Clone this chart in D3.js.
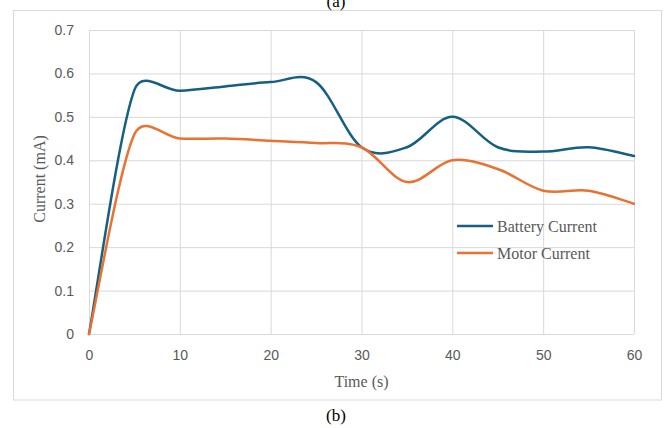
<!DOCTYPE html>
<html>
<head>
<meta charset="utf-8">
<script src="https://cdn.jsdelivr.net/npm/d3@7"></script>
<style>
  body { margin: 0; background: #fff; }
  .tick text { font-family: "Liberation Sans", Arial, sans-serif; font-size: 14px; fill: #595959; }
  .serif { font-family: "Liberation Serif", "Times New Roman", serif; }
</style>
</head>
<body>
<div id="chart"></div>
<script>
// values
const time = [0, 5, 10, 15, 20, 25, 30, 35, 40, 45, 50, 55, 60];
const battery = [0, 0.562, 0.56, 0.57, 0.58, 0.58, 0.43, 0.43, 0.50, 0.43, 0.42, 0.43, 0.41];
const motor = [0, 0.46, 0.45, 0.45, 0.445, 0.44, 0.43, 0.35, 0.40, 0.38, 0.33, 0.33, 0.30];
const seriesNames = ["Battery Current", "Motor Current"];
const xTicks = [0, 10, 20, 30, 40, 50, 60];
const yTicks = [0, 0.1, 0.2, 0.3, 0.4, 0.5, 0.6, 0.7];

const W = 664, H = 428;
const margin = {top: 30, right: 30, bottom: 94, left: 89},
      width = W - margin.left - margin.right,
      height = H - margin.top - margin.bottom;

const colors = ["#156082", "#E97132"];

// spreadsheet-style smoothing: bezier with 1/6 tangents, capped at half the segment
function SmoothCurve(context) { this._context = context; }
SmoothCurve.prototype = {
  areaStart() {}, areaEnd() {},
  lineStart() { this._pts = []; },
  point(x, y) { this._pts.push([+x, +y]); },
  lineEnd() {
    const p = this._pts, c = this._context, n = p.length;
    if (!n) return;
    const dist = (a, b) => Math.hypot(b[0] - a[0], b[1] - a[1]);
    c.moveTo(p[0][0], p[0][1]);
    for (let i = 0; i < n - 1; i++) {
      const p0 = p[i > 0 ? i - 1 : i], p1 = p[i], p2 = p[i + 1], p3 = p[i + 2 < n ? i + 2 : i + 1];
      const d12 = dist(p1, p2), d02 = dist(p0, p2), d13 = dist(p1, p3);
      let f0 = 1 / 6, f1 = 1 / 6;
      if (d02 / 6 > d12 / 2) f0 = d12 / 2 / d02;
      if (d13 / 6 > d12 / 2) f1 = d12 / 2 / d13;
      c.bezierCurveTo(
        p1[0] + (p2[0] - p0[0]) * f0, p1[1] + (p2[1] - p0[1]) * f0,
        p2[0] - (p3[0] - p1[0]) * f1, p2[1] - (p3[1] - p1[1]) * f1,
        p2[0], p2[1]);
    }
  }
};
const curveSmooth = ctx => new SmoothCurve(ctx);

const root = d3.select("#chart")
  .append("svg")
  .attr("width", W)
  .attr("height", H);

// outer frame
root.append("rect")
  .attr("x", 13.5).attr("y", 10.5)
  .attr("width", 648).attr("height", 389.5)
  .attr("fill", "none")
  .attr("stroke", "#d9d9d9");

// (a) and (b) captions
root.append("text").attr("class", "serif")
  .attr("x", 336).attr("y", 7)
  .attr("text-anchor", "middle")
  .style("font-size", "17px")
  .text("(a)");
root.append("text").attr("class", "serif")
  .attr("x", 336).attr("y", 421)
  .attr("text-anchor", "middle")
  .style("font-size", "17px")
  .text("(b)");

const svg = root.append("g")
  .attr("transform", `translate(${margin.left}, ${margin.top})`);

const x = d3.scaleLinear().domain([0, 60]).range([0, width]);
const y = d3.scaleLinear().domain([0, 0.7]).range([height, 0]);

// X axis with vertical gridlines
svg.append("g")
  .attr("transform", `translate(0, ${height})`)
  .call(d3.axisBottom(x).tickValues(xTicks).tickSize(-height).tickPadding(16))
  .call(g => g.select(".domain").remove())
  .call(g => g.selectAll(".tick line").attr("stroke", "#d9d9d9"));

// Y axis with horizontal gridlines
svg.append("g")
  .call(d3.axisLeft(y).tickValues(yTicks).tickSize(-width).tickPadding(15)
    .tickFormat(d => d === 0 ? "0" : d3.format(".1f")(d)))
  .call(g => g.select(".domain").remove())
  .call(g => g.selectAll(".tick line").attr("stroke", "#d9d9d9"));

// smoothed lines
const rows = time.map((t, i) => ({t: t, b: battery[i], m: motor[i]}));
const keys = ["b", "m"];

keys.forEach((k, i) => {
  const line = d3.line()
    .x(d => x(d.t))
    .y(d => y(d[k]))
    .curve(curveSmooth);
  svg.append("path")
    .datum(rows)
    .attr("fill", "none")
    .attr("stroke", colors[i])
    .attr("stroke-width", 2.5)
    .attr("stroke-linecap", "round")
    .attr("d", line);
});

// axis titles
root.append("text").attr("class", "serif")
  .attr("x", margin.left + width / 2).attr("y", 387)
  .attr("text-anchor", "middle")
  .style("font-size", "16px").attr("fill", "#595959")
  .text("Time (s)");

root.append("text").attr("class", "serif")
  .attr("transform", `translate(45, ${margin.top + height / 2 - 3}) rotate(-90)`)
  .attr("text-anchor", "middle")
  .style("font-size", "16px").attr("fill", "#595959")
  .text("Current (mA)");

// legend
const legend = root.append("g").attr("transform", "translate(457, 226)");
seriesNames.forEach((name, i) => {
  const g = legend.append("g").attr("transform", `translate(0, ${i * 27})`);
  g.append("line")
    .attr("x1", 0).attr("x2", 36)
    .attr("stroke", colors[i]).attr("stroke-width", 2.5);
  g.append("text").attr("class", "serif")
    .attr("x", 40).attr("y", 5.5)
    .style("font-size", "16px").attr("fill", "#595959")
    .text(name);
});
</script>
</body>
</html>
